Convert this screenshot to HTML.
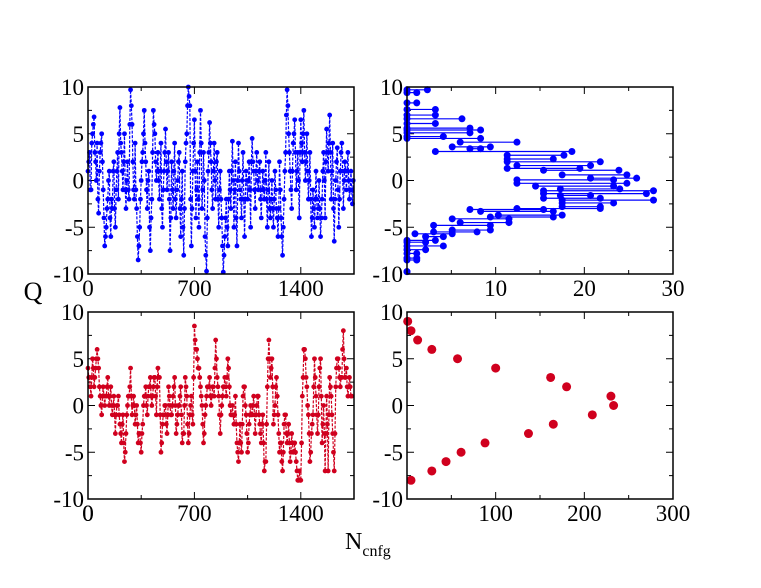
<!DOCTYPE html>
<html><head><meta charset="utf-8"><style>
html,body{margin:0;padding:0;background:#fff;}
svg{display:block;font-family:"Liberation Serif",serif;}
</style></head><body>
<svg id="chart" width="761" height="588" viewBox="0 0 761 588" xmlns="http://www.w3.org/2000/svg">
<text x="33" y="300" font-size="26" text-anchor="middle">Q</text>
<text x="345" y="549" font-size="24">N<tspan font-size="16" dy="7">cnfg</tspan></text>
</svg>
<script>
// ---- data ----
const nStep = 10;
const qTop = [1,3,-1,5,6.8,2, 4,-3.5,3,5,-1,
 -7,-5,-2,1,-6,-3,2,-5,1,-2,
 7.8,3,-1,5,-3,2,-2, 9.7,6,-1,
 4,-3,-8.5,-5,0,3, 7.5,2,-3,1, -7.5,-2,7.5,5,0,
 3,-2,4,-5,1,5.5,-1,3,-7.5,2,-3,4,-4,0,3,-6,1,-8,2,5,
 10,8,-7,1,6.5,-4,2,-5,7.5,-3,3,-6,-9.7,1,6.2,2,-3,4,-2,3,-5,1,-4,-9.8,-6,-2,-7,1,-3,4.2,
 -5,2,-7,4,-1,-4,3,-6,1,-2,2,-5,4.5,1,-3,3,-1,2,-4,1,-2,3,-5,2,-4,0,-5,1,-3,-6,2,-4,-8,-2,3,
 9.7,5,1,-3,4,6.5,-1,3,-4,6.5,2,7.5,0,5,-2,3,-6,-1,-5,1,-4,0,-6,-2,3,-4,5.5,1,7,-2,4,-6.5,0,3.5,
 -5,1,4,-3,2,-1,3,-2,1,-2.5];
const qTopMid = [2,-1,4,6,3,0, -2,1,4,2,-4,
 -6,-3,0,-4,-2,1,-3,-1,3,5,
 4,1,2,-1,0,-1,6, 8,2,-2,
 -1,-6,-7,-2,2,5, 4,-1,0,-5, -4,3,6,2,1,
 0,1,-3,-1,3,2,1,-2,-4,-1,1,-2,-1,2,-3,-2,-5,-3,4,8,
 9,-2,-3,4,1,-1,-2,3,4,-1,0,-8,-4,3,4,-1,1,0,2,-2,-1,-2,-7,-8,-4,-5,-2,-1,1,0,
 -1,-4,0,1,-2,0,-2,-2,0,0,-1,2,2,-1,1,0,1,-2,-1,-1,0,-2,-1,-3,-2,-3,-2,-1,-4,-3,-1,-6,-5,1,7,
 8,3,-1,1,5,3,1,0,3,4,5,3,2,1,0,-2,-4,-3,-2,-2,-3,-3,-4,1,0,2,3,4,3,1,-3,-2,2,-1,
 -2,3,1,0,1,1,0,-1,-1,0];
const qBottom = [4,3,1,5,2,4,6,4,1,-1,
 2,0,1,3,0,2,-1,1,-3,0,
 1,-2,-4,-1,-6,-3,0,1,4,-1,
 1,-2,0,-4,-3,-5,-2,1,2,-1,
 2,3,0,2,3,-1,4,3,-5,-2,
 -1,0,-3,2,0,-1,1,3,-3,-1,
 0,2,-4,-3,3,1,-4,-1,1,-2,
 8.5,6,5,4,2,0,-4,-1,1,2,
 3,0,2,1,7,3,1,-3,0,2,
 3,1,5,2,-1,0,-2,1,-4,-6,
 -2,-5,1,2,-1,-5,-2,0,-1,1,
 -3,0,1,-2,-4,-1,-7,-6,2,7,
 3,5,-2,0,3,-1,-5,-4,-7,-2,
 -1,-4,-2,-6,-3,-5,-4,-6,-8,-7,
 -8,1,6,5,2,-1,-6,-3,-1,5,
 1,-3,2,5,-4,0,-7,1,-7,3,
 1,-3,-7,2,5,4,2,3,8,3,
 4,1,3,1];
const qBottomMid = [3,2,3,4,3,5,5,2,0,1,
 1,1,2,1,1,0,0,-1,-1,0,
 -1,-3,-2,-4,-5,-1,1,2,1,0,
 0,-1,-2,-3,-4,-3,0,1,0,1,
 2,1,1,3,1,2,3,-1,-4,-1,
 0,-2,-1,1,-1,0,2,0,-2,0,
 1,-1,-3,0,2,-2,-3,0,-1,3,
 7,6,4,3,1,-2,-3,0,2,2,
 1,1,2,4,5,2,-1,-1,1,2,
 2,3,4,0,-1,-1,-1,-2,-5,-4,
 -4,-2,2,0,-3,-4,-1,-1,0,-1,
 -1,1,-1,-3,-2,-4,-6,-2,5,5,
 4,2,-1,2,1,-3,-4,-6,-5,-1,
 -3,-3,-4,-5,-4,-5,-5,-7,-8,-8,
 -4,3,6,3,0,-3,-5,-2,2,3,
 -1,-1,4,1,-2,-3,-3,-2,-1,2,
 -1,-5,-3,4,5,3,3,6,5,3,
 2,2,2,1];
const histQ = [9.7,9.4,8.3,7.6,7.0,6.6,6.1,5.6,5.4,5.1,4.7,4.5,4.1,3.6,3.4,3.1,2.7,2.3,2.0,1.6,1.3,1.1,0.6,0.25,0.07,-0.3,-0.6,-0.9,-1.1,-1.4,-1.6,-1.9,-2.1,-2.4,-2.8,-3.0,-3.1,-3.3,-3.7,-3.9,-4.1,-4.5,-4.8,-5.3,-5.5,-5.7,-6.0,-6.4,-6.6,-7.0,-7.4,-7.8,-8.3,-8.5,-9.75];
const histFrom = [0,0,0,0,0,0,0,0,0,0,0,0,6,5.1,7.1,3.2,11.3,11.3,11.3,12.4,11.3,15.4,17.5,20.7,12.4,12.4,14.5,17.3,15.4,15.4,17.3,15.4,17.5,17.5,17.5,12.4,7.1,8.3,10.3,9.4,5.1,6,3,5.1,3,0.9,2.1,0,0,0,0,0,0,0,0];
const histTo = [2.3,1.1,1.1,3.2,3.2,6.2,3.2,7.1,8.3,7.1,4.1,8.3,12.4,9.4,8.3,18.6,17.7,16.5,21.8,20.7,19.5,23.9,24.8,25.9,23.3,24.8,23.3,24,27.8,27,20.7,21.8,27.8,23.3,21.8,21.8,15.4,16.5,17.5,16.5,11.5,11.5,9.4,9.4,7.9,5.1,4.1,3.2,2.1,4.1,2.1,1.1,1.1,1.1,0];
const countQ = [9,8,7,6,5,4,3,2,1,0,-1,-2,-3,-4,-5,-6,-7,-8];
const countN = [0.8,4.5,12,28,57,100,162,180,230,233,209,165,137,88,61,44,28,4.5];
const yTicks = [-10,-5,0,5,10];
const xTicksTime = [0,700,1400];
const xTicksHist = [10,20,30];
const xTicksCount = [100,200,300];

// ---- drawing ----
const svg = document.getElementById('chart');
const NS = 'http://www.w3.org/2000/svg';
function mk(tag, attrs, parent){const e=document.createElementNS(NS,tag);for(const k in attrs)e.setAttribute(k,attrs[k]);(parent||svg).appendChild(e);return e;}

function panel(name, x0,x1,y0,y1, xmin,xmax, xMinorStep, xLabels, showX0){
  const g = mk('g',{});
  
  
  const sx = v => x0 + (v-xmin)/(xmax-xmin)*(x1-x0);
  const sy = v => y1 - (v+10)/20*(y1-y0);
  for(let k=0; xmin+k*xMinorStep<=xmax+1e-6; k++){
    const v = xmin+k*xMinorStep;
    const L = (k%2===0)?7:4;
    mk('line',{x1:sx(v),x2:sx(v),y1:y1,y2:y1-L,stroke:'#000','stroke-width':1},g);
    mk('line',{x1:sx(v),x2:sx(v),y1:y0,y2:y0+L,stroke:'#000','stroke-width':1},g);
  }
  for(let v=-10; v<=10; v+=2.5){
    const L = (v%5===0)?7:4;
    mk('line',{x1:x0,x2:x0+L,y1:sy(v),y2:sy(v),stroke:'#000','stroke-width':1},g);
    mk('line',{x1:x1,x2:x1-L,y1:sy(v),y2:sy(v),stroke:'#000','stroke-width':1},g);
  }
  yTicks.forEach(v=>{
    const t = mk('text',{x:x0-4,y:sy(v)+8,'font-size':23,'text-anchor':'end'},g);
    
    
    t.textContent = v;
  });
  const xl = showX0 ? [xmin].concat(xLabels) : xLabels;
  xl.forEach(v=>{
    const t = mk('text',{x:sx(v),y:y1+22,'font-size':23,'text-anchor':'middle'},g);
    
    
    t.textContent = v;
  });
  const plot = mk('g',{},g);
  mk('rect',{x:x0,y:y0,width:x1-x0,height:y1-y0,fill:'none',stroke:'#000','stroke-width':1.5},g);
  return {sx,sy,plot};
}

function series(P, A, B, color, tag){
  const ns=[], qs=[];
  A.forEach((q,i)=>{ns.push(i*nStep);qs.push(q); if(i<B.length){ns.push(i*nStep+nStep/2);qs.push(B[i]);}});
  const pts = qs.map((q,i)=>P.sx(ns[i])+','+P.sy(q)).join(' ');
  const l = mk('polyline',{points:pts,fill:'none',stroke:color,'stroke-width':1.2,'stroke-dasharray':'3,1.5'},P.plot);
  
  
  qs.forEach((q,i)=>{
    const c = mk('circle',{cx:P.sx(ns[i]),cy:P.sy(q),r:2.4,fill:color},P.plot);
    
    
  });
}

let P = panel('top-left-panel',88,354,87,274,0,1750,350,xTicksTime,false);
series(P, qTop, qTopMid, '#0000ff', 'top');

P = panel('top-right-panel',407,673,87,274,0,30,5,xTicksHist,false);
histQ.forEach((q,i)=>{
  const s = mk('line',{x1:P.sx(histFrom[i]),x2:P.sx(histTo[i]),y1:P.sy(q),y2:P.sy(q),stroke:'#0000ff','stroke-width':1.2},P.plot);
  
  
  [histFrom[i],histTo[i]].forEach(n=>{
    const c = mk('circle',{cx:P.sx(n),cy:P.sy(q),r:3.5,fill:'#0000ff'},P.plot);
    
    
  });
});

P = panel('bottom-left-panel',88,354,312,499,0,1750,350,xTicksTime,true);
series(P, qBottom, qBottomMid, '#d0001e', 'bottom');

P = panel('bottom-right-panel',407,673,312,499,0,300,50,xTicksCount,false);
countQ.forEach((q,i)=>{
  const c = mk('circle',{cx:P.sx(countN[i]),cy:P.sy(q),r:4.5,fill:'#d0001e'},P.plot);
  
  
});
</script>
</body></html>
